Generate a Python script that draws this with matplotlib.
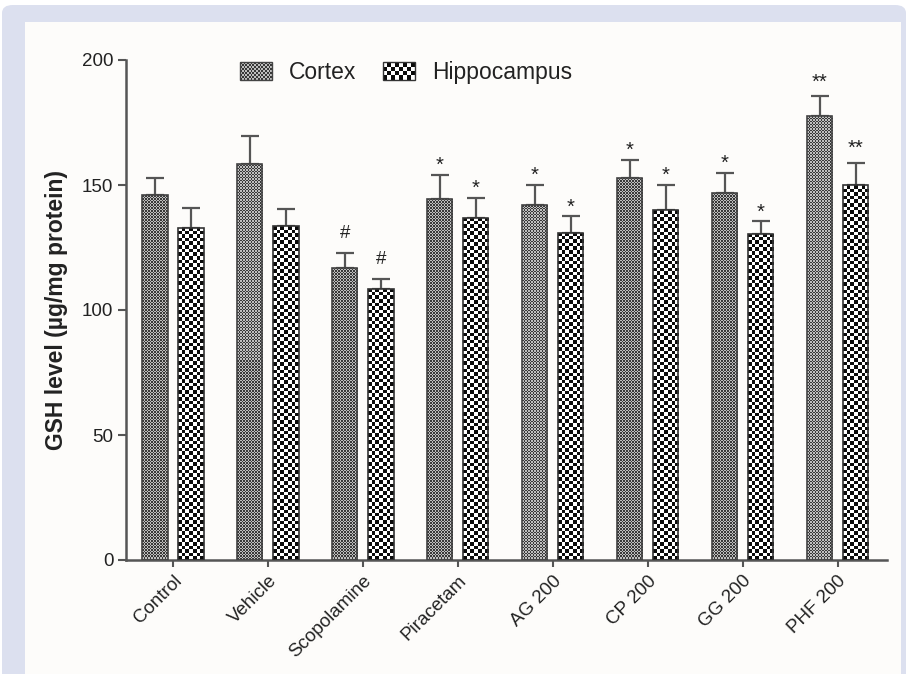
import numpy as np
import matplotlib
matplotlib.use("Agg")
import matplotlib.pyplot as plt
from matplotlib.colors import ListedColormap
from matplotlib.patches import Rectangle, FancyBboxPatch, Patch
from matplotlib.legend_handler import HandlerBase

# ---------------- data ----------------
groups = ["Control", "Vehicle", "Scopolamine", "Piracetam", "AG 200", "CP 200", "GG 200", "PHF 200"]
cortex = [146, 158.5, 117, 144.5, 142, 153, 147, 177.5]
cortex_err = [7, 11, 6, 9.5, 8, 7, 8, 8]
hippo = [133, 133.5, 108.5, 137, 131, 140, 130.5, 150]
hippo_err = [8, 7, 4, 8, 6.5, 10, 5, 9]
cortex_marks = ["", "", "#", "*", "*", "*", "*", "**"]
hippo_marks = ["", "", "#", "*", "*", "*", "*", "**"]
series_names = ["Cortex", "Hippocampus"]
y_ticks = [0, 50, 100, 150, 200]
y_label = "GSH level (µg/mg protein)"

# ---------------- style ----------------
plt.rcParams["font.family"] = ["Liberation Sans", "DejaVu Sans"]
TXT = "#222222"
AX = "#555555"
W, H, DPI = 906, 674, 100
CORTEX_COLORS = ["#383838", "#bebebe"]
HIPPO_COLORS = ["#0a0a0a", "#ffffff"]

fig = plt.figure(figsize=(W / DPI, H / DPI), dpi=DPI)
fig.patch.set_facecolor("white")
# lavender frame and white inner panel
fig.patches.append(FancyBboxPatch((2 / W, -0.2), (W - 2) / W, (H - 5) / H + 0.2,
                                  boxstyle="round,pad=0,rounding_size=0.012",
                                  transform=fig.transFigure, facecolor="#dce0ef",
                                  edgecolor="none", zorder=-10))
fig.patches.append(Rectangle((25 / W, 0), (901 - 25) / W, (H - 22) / H,
                             transform=fig.transFigure, facecolor="#fdfcfa",
                             edgecolor="none", zorder=-9))

left, right, bottom, top = 126, 887, 560, 60
ax = fig.add_axes([left / W, 1 - bottom / H, (right - left) / W, (bottom - top) / H])
ax.patch.set_alpha(0)

x = np.arange(len(groups))
off, bw = 0.19, 0.265
xlim = (-0.495, 7.52)
ylim = (0, 200)

b1 = ax.bar(x - off, cortex, bw, facecolor="none", edgecolor="#444444", linewidth=1.2, zorder=3)
b2 = ax.bar(x + off, hippo, bw, facecolor="none", edgecolor="#333333", linewidth=1.2, zorder=3)
ax.set_xlim(*xlim)
ax.set_ylim(*ylim)

px_x = (right - left) / (xlim[1] - xlim[0])
px_y = (bottom - top) / (ylim[1] - ylim[0])


def checker_fill(bars, cell_px, colors):
    cmap = ListedColormap(colors)
    for r in bars:
        x0, w, h = r.get_x(), r.get_width(), r.get_height()
        nc = max(1, int(round(w * px_x / cell_px)))
        nr = max(1, int(round(h * px_y / cell_px)))
        ii, jj = np.indices((nr, nc))
        arr = (ii + jj) % 2
        im = ax.imshow(arr, cmap=cmap, extent=(x0, x0 + w, 0, h), origin="lower",
                       interpolation="nearest", aspect="auto", zorder=2, vmin=0, vmax=1)
        im.set_clip_path(r)


checker_fill(b1, 1.5, CORTEX_COLORS)
checker_fill(b2, 3.6, HIPPO_COLORS)
ax.set_xlim(*xlim)
ax.set_ylim(*ylim)

ax.errorbar(x - off, cortex, yerr=[np.zeros(len(x)), cortex_err], fmt="none",
            ecolor="#555555", elinewidth=1.6, capsize=6.5, capthick=1.6, zorder=1)
ax.errorbar(x + off, hippo, yerr=[np.zeros(len(x)), hippo_err], fmt="none",
            ecolor="#555555", elinewidth=1.6, capsize=6.5, capthick=1.6, zorder=1)

mark_off = {"#": 6, "*": 1.5, "**": 3.5}
for xs, vals, errs, marks in [(x - off, cortex, cortex_err, cortex_marks),
                              (x + off, hippo, hippo_err, hippo_marks)]:
    for xi, v, e, m in zip(xs, vals, errs, marks):
        if m:
            ax.text(xi, v + e + mark_off[m], m, ha="center", va="baseline",
                    fontsize=14.5 if "*" in m else 13.5, color=TXT)

# axes styling
for s in ["top", "right"]:
    ax.spines[s].set_visible(False)
for s in ["left", "bottom"]:
    ax.spines[s].set_color(AX)
    ax.spines[s].set_linewidth(1.8)
ax.set_yticks(y_ticks)
ax.set_yticklabels([str(t) for t in y_ticks])
ax.tick_params(axis="y", length=6, width=1.5, color=AX, labelsize=13.5, labelcolor=TXT, pad=3)
ax.set_xticks(x)
ax.set_xticklabels(groups, rotation=45, ha="right", rotation_mode="anchor")
ax.tick_params(axis="x", length=5, width=1.5, color=AX, labelsize=13.5, labelcolor=TXT, pad=4)
ax.set_ylabel(y_label, fontsize=16.5, fontweight="bold", color=TXT, labelpad=10)


# legend with checker swatches
class CheckerHandler(HandlerBase):
    def __init__(self, ncols, nrows, colors, edge):
        super().__init__()
        self.ncols, self.nrows, self.colors, self.edge = ncols, nrows, colors, edge

    def create_artists(self, legend, orig_handle, xdescent, ydescent, width, height, fontsize, trans):
        arts = []
        cw, ch = width / self.ncols, height / self.nrows
        for i in range(self.nrows):
            for j in range(self.ncols):
                arts.append(Rectangle((-xdescent + j * cw, -ydescent + i * ch), cw, ch,
                                      facecolor=self.colors[(i + j) % 2], edgecolor="none",
                                      transform=trans))
        arts.append(Rectangle((-xdescent, -ydescent), width, height, facecolor="none",
                              edgecolor=self.edge, linewidth=1.0, transform=trans))
        return arts


h1 = Patch(label=series_names[0])
h2 = Patch(label=series_names[1])
leg = fig.legend(handles=[h1, h2], loc="upper left", bbox_to_anchor=(240 / W, 1 - 61 / H),
                 ncol=2, frameon=False, fontsize=16.5, borderpad=0, borderaxespad=0,
                 handlelength=1.4, handleheight=0.8, handletextpad=0.75, columnspacing=1.15,
                 labelcolor=TXT,
                 handler_map={h1: CheckerHandler(18, 9, CORTEX_COLORS, "#444444"),
                              h2: CheckerHandler(8, 4, HIPPO_COLORS, "#333333")})

fig.savefig("out.png", dpi=DPI)
